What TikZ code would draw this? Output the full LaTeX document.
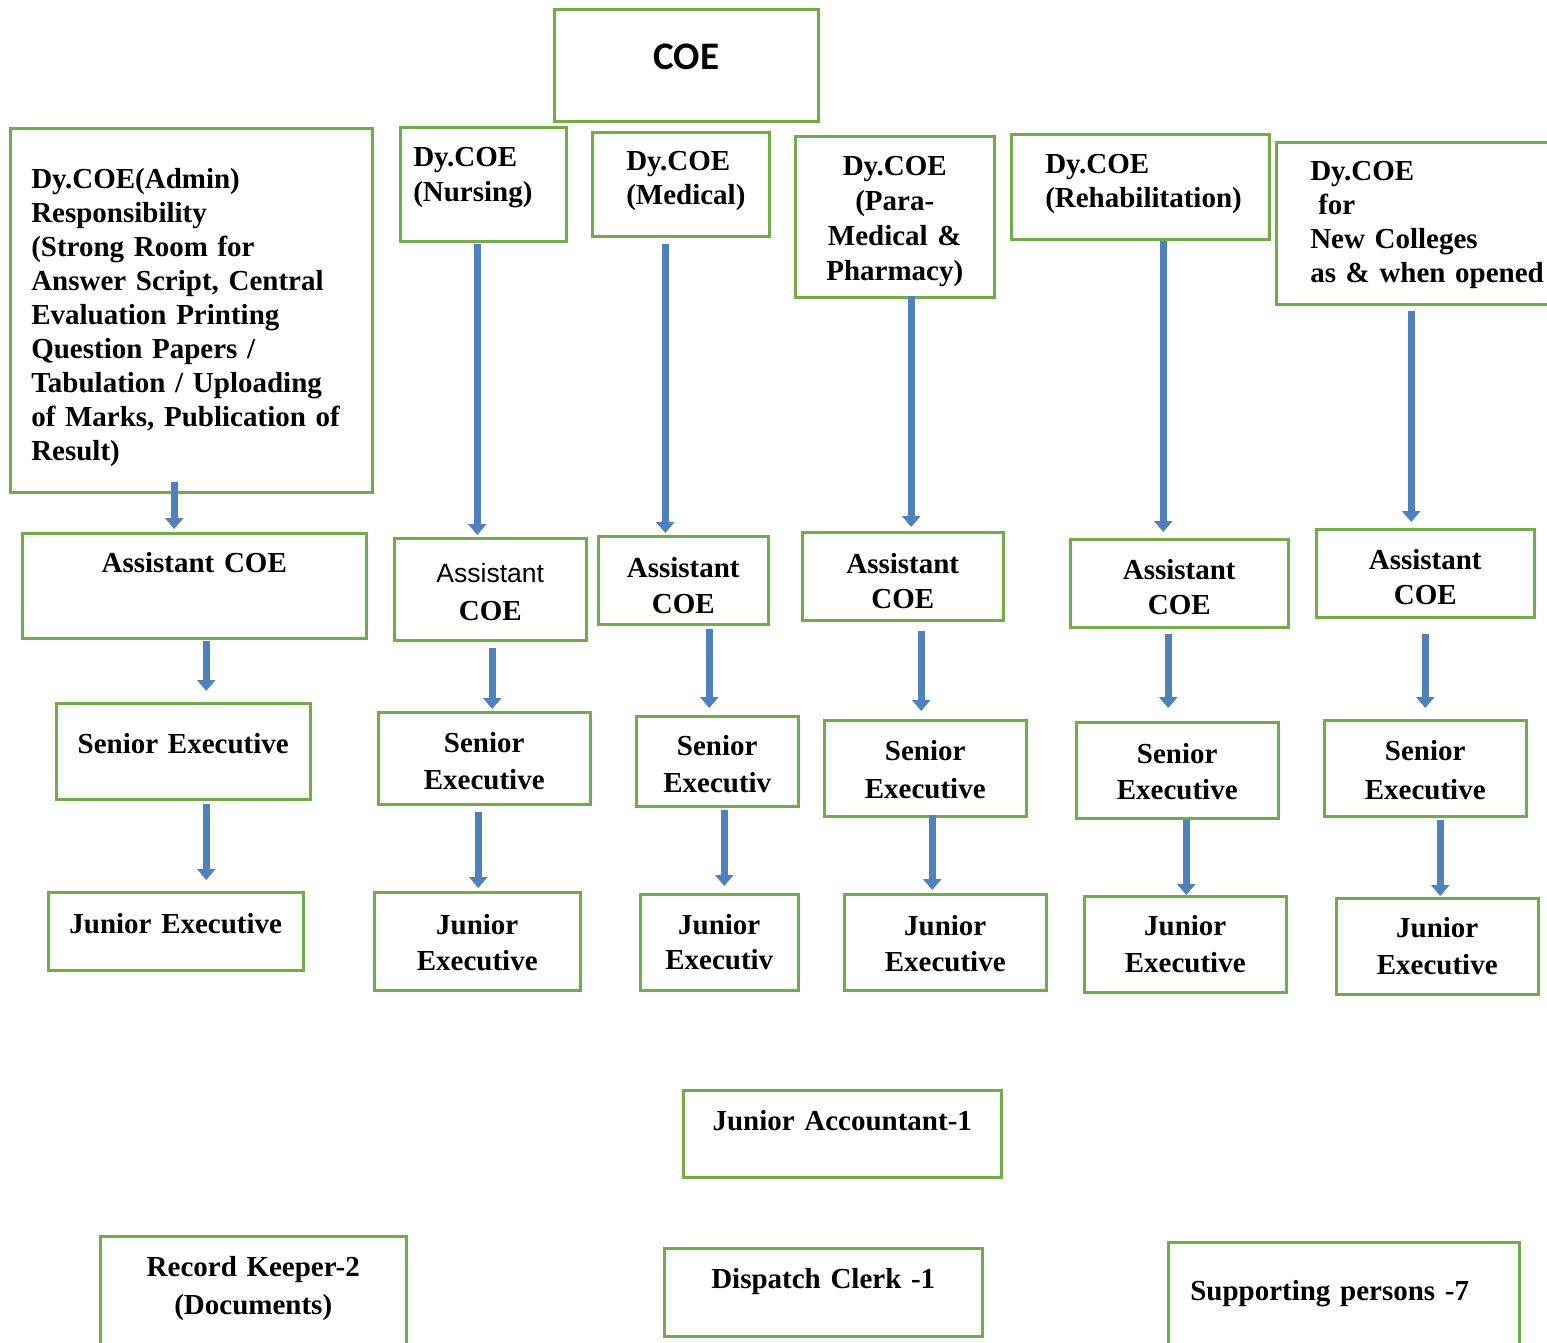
\documentclass[tikz,border=0pt]{standalone}
\usepackage{fontspec}
\setmainfont{Liberation Serif}
\newfontfamily\coefont{Carlito}
\newfontfamily\asstfont{Liberation Sans}
\usetikzlibrary{arrows.meta}

\definecolor{boxgreen}{HTML}{70AD47}
\definecolor{arrowblue}{HTML}{4F81BD}

\begin{document}
\begin{tikzpicture}[x=1pt, y=-1pt,
    box/.style={draw=boxgreen, line width=2.5pt, anchor=north west, inner sep=0pt,
        align=center, font=\bfseries\fontsize{29}{36}\selectfont},
    lbox/.style={box, align=left, font=\bfseries\fontsize{29}{34}\selectfont},
    arr/.style={draw=arrowblue, line width=7pt, -{Triangle[length=11pt,width=18pt]}}]
    \useasboundingbox[fill=white] (0,0) rectangle (1547,1342);

    % top
    \node[box, text width=264pt, text height=60pt, text depth=52pt,
        font=\coefont\bfseries\fontsize{39}{44}\selectfont] (coe) at (553,8) {COE};

    % deputies
    \node[lbox, inner xsep=21pt, text width=320pt, text height=60pt, text depth=304pt] (admin) at (9,127)
        {Dy.COE(Admin)\\ Responsibility\\ (Strong Room for\\ Answer Script, Central\\ Evaluation Printing\\
         Question Papers /\\ Tabulation / Uploading\\ of Marks, Publication of\\ Result)};
    \node[lbox, inner xsep=13pt, text width=140pt, text height=39pt, text depth=75pt,
        font=\bfseries\fontsize{29}{35}\selectfont] (nurs) at (399,126) {Dy.COE\\ (Nursing)};
    \node[lbox, inner xsep=34pt, text width=109pt, text height=38pt, text depth=66pt] (med) at (591,131) {Dy.COE\\ (Medical)};
    \node[box, text width=199pt, text height=39pt, text depth=122pt,
        font=\bfseries\fontsize{29}{35}\selectfont] (para) at (794,135) {Dy.COE\\ (Para-\\ Medical \&\\ Pharmacy)};
    \node[lbox, inner xsep=34pt, text width=190pt, text height=39pt, text depth=66pt] (rehab) at (1010,133) {Dy.COE\\ (Rehabilitation)};
    \node[lbox, inner xsep=34pt, text width=262pt, text height=38pt, text depth=124pt] (new) at (1275,141)
        {Dy.COE\\ \hspace*{8pt}for\\ New Colleges\\ as \& when opened};

    % assistants
    \node[box, text width=344pt, text height=39pt, text depth=66pt] (a1) at (21,532) {Assistant COE};
    \node[box, text width=192pt, text height=44pt, text depth=58pt] (a2) at (393,537)
        {{\asstfont\mdseries\fontsize{26.5}{30}\selectfont Assistant}\\[2pt] COE};
    \node[box, text width=170pt, text height=41pt, text depth=47pt] (a3) at (597,535) {Assistant\\ COE};
    \node[box, text width=201pt, text height=41pt, text depth=47pt,
        font=\bfseries\fontsize{29}{35}\selectfont] (a4) at (801,531) {Assistant\\ COE};
    \node[box, text width=218pt, text height=40pt, text depth=48pt,
        font=\bfseries\fontsize{29}{35}\selectfont] (a5) at (1069,538) {Assistant\\ COE};
    \node[box, text width=218pt, text height=40pt, text depth=48pt,
        font=\bfseries\fontsize{29}{35}\selectfont] (a6) at (1315,528) {Assistant\\ COE};

    % senior executives
    \node[box, text width=254pt, text height=50pt, text depth=46pt] (s1) at (55,702) {Senior Executive};
    \node[box, text width=212pt, text height=40pt, text depth=52pt,
        font=\bfseries\fontsize{29}{37}\selectfont] (s2) at (377,711) {Senior\\ Executive};
    \node[box, text width=162pt, text height=39pt, text depth=51pt,
        font=\bfseries\fontsize{29}{37}\selectfont] (s3) at (635,715) {Senior\\ Executiv};
    \node[box, text width=202pt, text height=40pt, text depth=56pt,
        font=\bfseries\fontsize{29}{38}\selectfont] (s4) at (823,719) {Senior\\ Executive};
    \node[box, text width=202pt, text height=41pt, text depth=55pt] (s5) at (1075,721) {Senior\\ Executive};
    \node[box, text width=202pt, text height=40pt, text depth=56pt,
        font=\bfseries\fontsize{29}{39}\selectfont] (s6) at (1323,719) {Senior\\ Executive};

    % junior executives
    \node[box, text width=255pt, text height=41pt, text depth=37pt] (j1) at (47,891) {Junior Executive};
    \node[box, text width=206pt, text height=42pt, text depth=56pt] (j2) at (373,891) {Junior\\ Executive};
    \node[box, text width=158pt, text height=40pt, text depth=56pt,
        font=\bfseries\fontsize{29}{35}\selectfont] (j3) at (639,893) {Junior\\ Executiv};
    \node[box, text width=202pt, text height=41pt, text depth=55pt] (j4) at (843,893) {Junior\\ Executive};
    \node[box, text width=202pt, text height=39pt, text depth=57pt,
        font=\bfseries\fontsize{29}{37}\selectfont] (j5) at (1083,895) {Junior\\ Executive};
    \node[box, text width=202pt, text height=39pt, text depth=57pt,
        font=\bfseries\fontsize{29}{37}\selectfont] (j6) at (1335,897) {Junior\\ Executive};

    % office staff
    \node[box, text width=318pt, text height=40pt, text depth=47pt] (acct) at (682,1089) {Junior Accountant-1};
    \node[box, text width=306pt, text height=40pt, text depth=125pt,
        font=\bfseries\fontsize{29}{38}\selectfont] (rec) at (99,1235) {Record Keeper-2\\ (Documents)};
    \node[box, text width=318pt, text height=40pt, text depth=48pt] (disp) at (663,1247) {Dispatch Clerk -1};
    \node[lbox, inner xsep=22pt, text width=307pt, text height=58pt, text depth=101pt] (supp) at (1167,1241) {Supporting persons -7};

    % arrows
    \draw[arr, shorten <=-12pt, shorten >=3pt] ([xshift=-17pt]admin.south) -- ([xshift=-17pt]admin.south |- a1.north);
    \draw[arr, shorten <=1pt, shorten >=2pt] ([xshift=-6pt]nurs.south) -- ([xshift=-6pt]nurs.south |- a2.north);
    \draw[arr, shorten <=6pt, shorten >=2pt] ([xshift=-15.5pt]med.south) -- ([xshift=-15.5pt]med.south |- a3.north);
    \draw[arr, shorten <=-3pt, shorten >=4pt] ([xshift=16.5pt]para.south) -- ([xshift=16.5pt]para.south |- a4.north);
    \draw[arr, shorten <=0pt, shorten >=6pt] ([xshift=23pt]rehab.south) -- ([xshift=23pt]rehab.south |- a5.north);
    \draw[arr, shorten <=5pt, shorten >=6pt] ([xshift=-30pt]new.south) -- ([xshift=-30pt]new.south |- a6.north);

    \draw[arr, shorten <=1pt, shorten >=11pt] ([xshift=12pt]a1.south) -- ([xshift=12pt]a1.south |- s1.north);
    \draw[arr, shorten <=6pt, shorten >=2pt] ([xshift=2pt]a2.south) -- ([xshift=2pt]a2.south |- s2.north);
    \draw[arr, shorten <=3pt, shorten >=7pt] ([xshift=26pt]a3.south) -- ([xshift=26pt]a3.south |- s3.north);
    \draw[arr, shorten <=9pt, shorten >=8pt] ([xshift=18.5pt]a4.south) -- ([xshift=18.5pt]a4.south |- s4.north);
    \draw[arr, shorten <=5pt, shorten >=13pt] ([xshift=-11pt]a5.south) -- ([xshift=-11pt]a5.south |- s5.north);
    \draw[arr, shorten <=15pt, shorten >=11pt] (a6.south) -- (a6.south |- s6.north);

    \draw[arr, shorten <=3pt, shorten >=11pt] ([xshift=23pt]s1.south) -- ([xshift=23pt]s1.south |- j1.north);
    \draw[arr, shorten <=6pt, shorten >=3pt] ([xshift=-6pt]s2.south) -- ([xshift=-6pt]s2.south |- j2.north);
    \draw[arr, shorten <=2pt, shorten >=7pt] ([xshift=7pt]s3.south) -- ([xshift=7pt]s3.south |- j3.north);
    \draw[arr, shorten <=-3pt, shorten >=3pt] ([xshift=7pt]s4.south) -- ([xshift=7pt]s4.south |- j4.north);
    \draw[arr, shorten <=0pt, shorten >=0pt] ([xshift=9pt]s5.south) -- ([xshift=9pt]s5.south |- j5.north);
    \draw[arr, shorten <=2pt, shorten >=1pt] ([xshift=15pt]s6.south) -- ([xshift=15pt]s6.south |- j6.north);
\end{tikzpicture}
\end{document}
